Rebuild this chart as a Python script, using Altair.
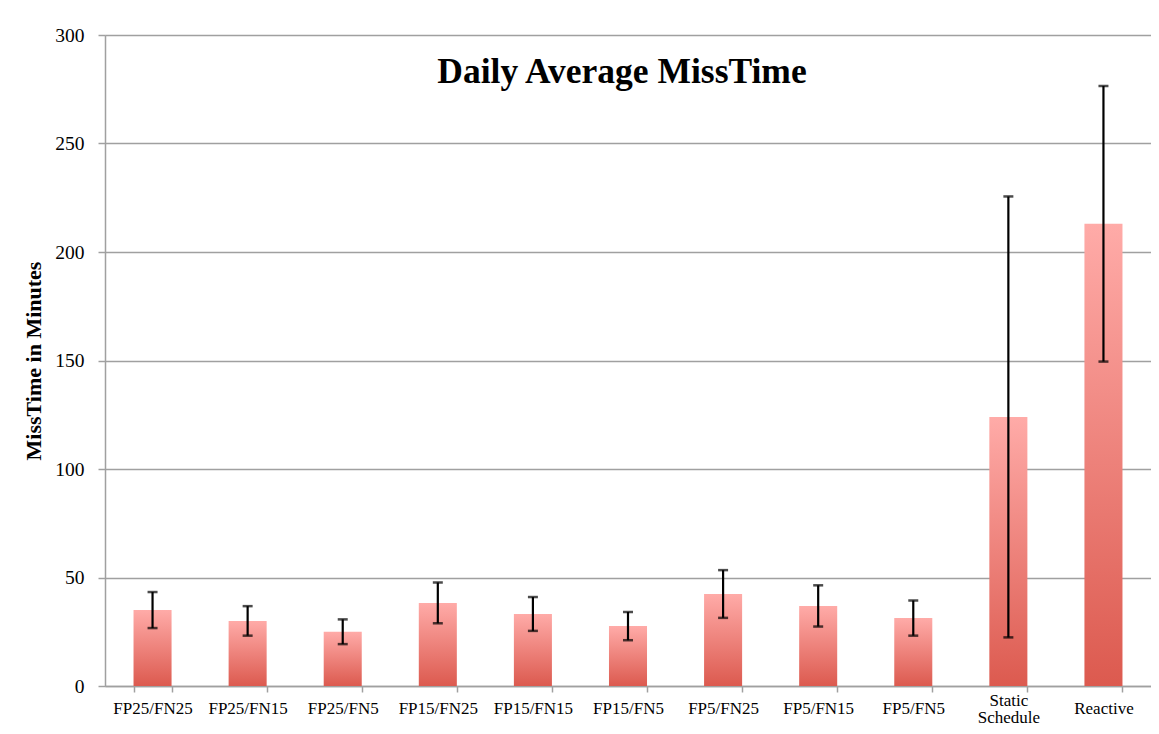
import altair as alt
import pandas as pd

categories = ["FP25/FN25", "FP25/FN15", "FP25/FN5", "FP15/FN25", "FP15/FN15",
              "FP15/FN5", "FP5/FN25", "FP5/FN15", "FP5/FN5", "Static Schedule", "Reactive"]
means = [35.0, 30.0, 25.0, 38.3, 33.2, 27.6, 42.4, 36.9, 31.3, 124.0, 213.0]
errors = [8.3, 6.8, 5.7, 9.4, 7.8, 6.5, 11.0, 9.5, 8.1, 101.6, 63.5]
y_ticks = [0, 50, 100, 150, 200, 250, 300]

df = pd.DataFrame({"cat": categories, "mean": means, "err": errors})
df["lo"] = df["mean"] - df["err"]
df["hi"] = df["mean"] + df["err"]

serif = "Liberation Serif"

x_enc = alt.X(
    "cat:N", sort=categories, title=None,
    scale=alt.Scale(paddingInner=0.6, paddingOuter=0.3),
    axis=alt.Axis(labelAngle=0, labelFont=serif, labelFontSize=17, labelColor="black",
                  tickBand="extent", tickSize=6, tickColor="#a0a0a0", tickWidth=1.5,
                  domainColor="#a0a0a0", domainWidth=1.5,
                  labelPadding={"condition": {"test": "datum.value == 'Static Schedule'", "value": 0},
                                "value": 8},
                  labelExpr="datum.label == 'Static Schedule' ? ['Static', 'Schedule'] : datum.label",
                  labelLineHeight=17, grid=False),
)

y_scale = alt.Scale(domain=[0, 300], nice=False)

bars = alt.Chart(df).mark_bar(
    color=alt.Gradient(
        gradient="linear", x1=0, y1=0, x2=0, y2=1,
        stops=[alt.GradientStop(color="#ffaba8", offset=0),
               alt.GradientStop(color="#dc5a4f", offset=1)],
    )
).encode(
    x=x_enc,
    y=alt.Y("mean:Q", scale=y_scale, title="MissTime in Minutes",
            axis=alt.Axis(values=y_ticks, labelFont=serif, labelFontSize=19.5, labelColor="black",
                          titleFont=serif, titleFontSize=22, titleFontWeight="bold",
                          titleColor="black", titlePadding=9,
                          tickSize=7, tickColor="#a0a0a0", tickWidth=1.5, labelPadding=14,
                          domainColor="#a0a0a0", domainWidth=1.5,
                          gridColor="#a0a0a0", gridWidth=1.5)),
)

rules = alt.Chart(df).mark_rule(color="black", strokeWidth=2.2).encode(
    x=alt.X("cat:N", sort=categories), y=alt.Y("lo:Q", scale=y_scale), y2="hi:Q"
)
cap_lo = alt.Chart(df).mark_tick(color="black", thickness=2.5, size=10).encode(
    x=alt.X("cat:N", sort=categories), y=alt.Y("lo:Q", scale=y_scale)
)
cap_hi = alt.Chart(df).mark_tick(color="black", thickness=2.5, size=10).encode(
    x=alt.X("cat:N", sort=categories), y=alt.Y("hi:Q", scale=y_scale)
)

chart = alt.layer(bars, rules, cap_lo, cap_hi).properties(
    width=1046, height=651,
    title=alt.TitleParams("Daily Average MissTime", font=serif, fontSize=35.5,
                          fontWeight="bold", color="black", anchor="middle", dy=69, dx=-6),
    autosize=alt.AutoSizeParams(type="none"),
    padding={"left": 97, "top": 27, "right": 0, "bottom": 40},
).configure_view(stroke=None).configure(background="white")

chart.save("out.html", embed_options={"renderer": "svg", "actions": False})
